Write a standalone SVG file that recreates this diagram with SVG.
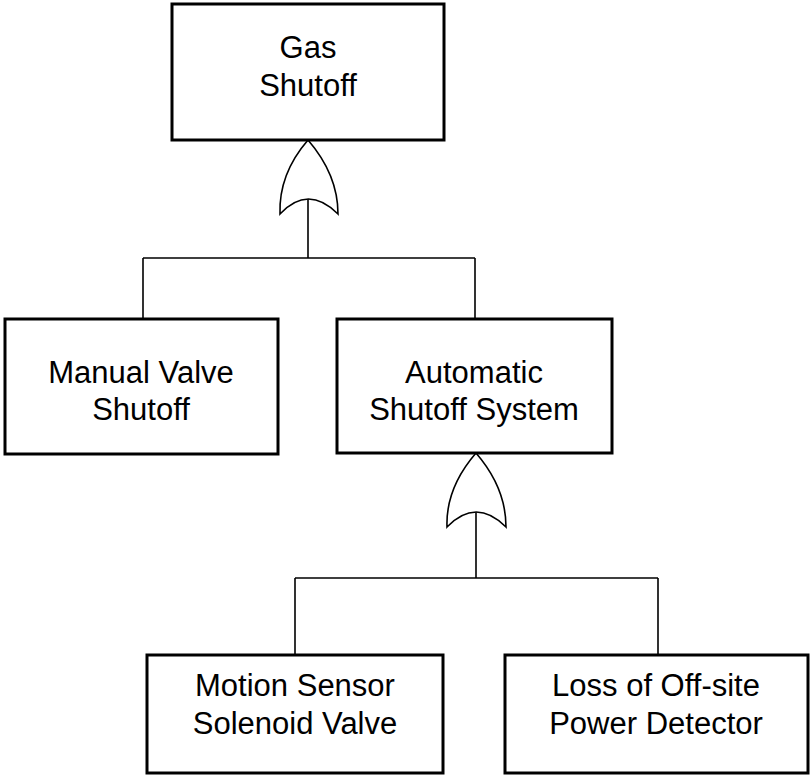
<svg xmlns="http://www.w3.org/2000/svg" width="811" height="775" viewBox="0 0 811 775">
<style>
.box{fill:#fff;stroke:#000;stroke-width:3}
.gate{fill:#fff;stroke:#000;stroke-width:1.6}
.wire{fill:none;stroke:#000;stroke-width:1.6}
text{font-family:"Liberation Sans",Arial,sans-serif;font-size:31px;fill:#000;text-anchor:middle}
</style>
<rect width="811" height="775" fill="#fff"/>
<g id="connectors">
<path class="wire" d="M308,199 V258 M143,258 H475 M143,258 V319 M475,258 V319"/>
<path class="wire" d="M476,512 V578 M295,578 H658 M295,578 V655 M658,578 V655"/>
</g>
<g id="gate1">
<path class="gate" d="M280,214 C279,186 289,162 308,140 C327,162 338,186 338,214 Q308,184 280,214 Z"/>
</g>
<g id="gate2">
<path class="gate" d="M447,527 C446,499 457,475 476,453 C495,475 506,499 506,527 Q476,497 447,527 Z"/>
</g>
<g id="gas-shutoff">
<rect class="box" x="172" y="4" width="272" height="136"/>
<text x="308" y="58">Gas</text>
<text x="308" y="96">Shutoff</text>
</g>
<g id="manual-valve-shutoff">
<rect class="box" x="5" y="319" width="273" height="135"/>
<text x="141" y="383">Manual Valve</text>
<text x="141" y="420">Shutoff</text>
</g>
<g id="automatic-shutoff-system">
<rect class="box" x="337" y="319" width="275" height="134"/>
<text x="474" y="383">Automatic</text>
<text x="474" y="420">Shutoff System</text>
</g>
<g id="motion-sensor">
<rect class="box" x="147" y="655" width="296" height="118"/>
<text x="295" y="696">Motion Sensor</text>
<text x="295" y="734">Solenoid Valve</text>
</g>
<g id="loss-of-power">
<rect class="box" x="505" y="655" width="303" height="118"/>
<text x="656" y="696">Loss of Off-site</text>
<text x="656" y="734">Power Detector</text>
</g>
</svg>
